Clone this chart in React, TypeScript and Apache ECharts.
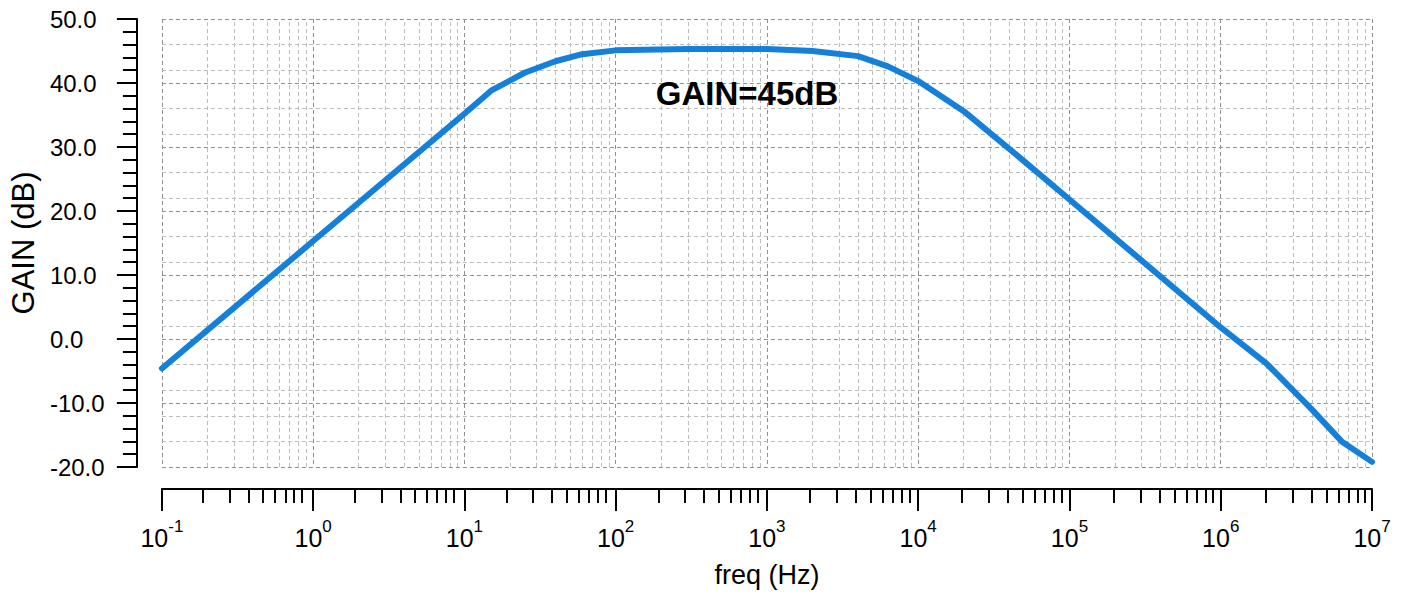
import { useEffect, useRef } from "react";
import * as echarts from "echarts";

// ---- data ----
const freqHz = [0.1, 1, 10, 15, 25, 40, 60, 100, 300, 1000, 2000, 4000, 6300, 10000, 20000, 50000, 100000, 1000000, 2000000, 4000000, 6300000, 10000000];
const gainDb = [-4.6, 15.3, 35.2, 38.8, 41.6, 43.4, 44.5, 45.1, 45.3, 45.3, 45.0, 44.2, 42.6, 40.3, 35.6, 27.8, 21.8, 1.8, -3.8, -11.0, -16.0, -19.2];
const decadeStarts = [0.1, 1, 10, 100, 1000, 10000, 100000, 1000000];
const minorMultipliers = [2, 3, 4, 5, 6, 7, 8, 9];
const minorGridDb = [46, 42, 36, 32, 26, 22, 16, 12, 6, 2, -4, -8, -12, -16];
const yMin = -20;
const yMax = 50;
const yStep = 10;
const xMin = 0.1;
const xMax = 10000000;
const annotationText = "GAIN=45dB";
const xName = "freq (Hz)";
const yName = "GAIN (dB)";

const FONT = '"Liberation Sans", Arial, Helvetica, sans-serif';

export default function App() {
  const ref = useRef<HTMLDivElement>(null);
  useEffect(() => {
    if (!ref.current) return;
    const chart = echarts.init(ref.current, null, { renderer: "svg" });
    const minorX = decadeStarts.flatMap((d) => minorMultipliers.map((m) => +(d * m).toPrecision(6)));
    const option: any = {
      animation: false,
      backgroundColor: "#fff",
      grid: [
        { left: 157, top: 19, width: 1215, height: 448 },
        { left: 157, top: 489, width: 1215, height: 14 },
      ],
      xAxis: [
        {
          type: "log",
          logBase: 10,
          gridIndex: 0,
          min: xMin,
          max: xMax,
          position: "bottom",
          offset: 22,
          axisLine: { show: true, onZero: false, lineStyle: { color: "#000", width: 2 } },
          axisTick: { show: true, length: 22, lineStyle: { color: "#000", width: 2 } },
          axisLabel: {
            show: true,
            margin: 29,
            showMinLabel: true,
            showMaxLabel: true,
            formatter: (v: number) => `{b|10}{s|${Math.round(Math.log10(v))}}`,
            rich: {
              b: { fontSize: 25, lineHeight: 40, fontFamily: FONT, color: "#000" },
              s: { fontSize: 17, lineHeight: 17, verticalAlign: "top", fontFamily: FONT, color: "#000" },
            },
          },
          splitLine: { show: true, lineStyle: { color: "#8f8f8f", type: [4, 3], width: 1 } },
          name: xName,
          nameLocation: "middle",
          nameGap: 72,
          nameTextStyle: { fontSize: 27, color: "#000", fontFamily: FONT },
        },
        {
          type: "log",
          logBase: 10,
          gridIndex: 1,
          min: xMin,
          max: xMax,
          show: false,
        },
      ],
      yAxis: [
        {
          type: "value",
          gridIndex: 0,
          min: yMin,
          max: yMax,
          interval: yStep,
          offset: 25,
          axisLine: { show: true, onZero: false, lineStyle: { color: "#000", width: 2 } },
          axisTick: { show: true, length: 20, lineStyle: { color: "#000", width: 2 } },
          minorTick: { show: true, splitNumber: 5, length: 14, lineStyle: { color: "#000", width: 2 } },
          axisLabel: {
            show: true,
            align: "left",
            margin: 87,
            fontSize: 24,
            fontFamily: FONT,
            color: "#000",
            formatter: (v: number) => v.toFixed(1),
          },
          splitLine: { show: true, lineStyle: { color: "#8f8f8f", type: [4, 3], width: 1 } },
          name: yName,
          nameLocation: "middle",
          nameRotate: 90,
          nameGap: 95,
          nameTextStyle: { fontSize: 31, color: "#000", fontFamily: FONT },
        },
        {
          type: "value",
          gridIndex: 1,
          min: 0,
          max: 1,
          show: false,
        },
      ],
      series: [
        {
          type: "line",
          xAxisIndex: 0,
          yAxisIndex: 0,
          data: [],
          silent: true,
          markLine: {
            silent: true,
            z: 1,
            symbol: ["none", "none"],
            label: { show: false },
            lineStyle: { color: "#bdbdbd", type: [4, 3], width: 1 },
            emphasis: { disabled: true },
            data: [
              ...minorX.map((v) => ({ xAxis: v })),
              ...minorGridDb.map((v) => ({ yAxis: v })),
            ],
          },
        },
        {
          type: "line",
          xAxisIndex: 1,
          yAxisIndex: 1,
          data: [],
          silent: true,
          markLine: {
            silent: true,
            symbol: ["none", "none"],
            label: { show: false },
            lineStyle: { color: "#000", type: "solid", width: 2 },
            emphasis: { disabled: true },
            data: minorX.map((v) => ({ xAxis: v })),
          },
        },
        {
          type: "line",
          name: "gain",
          xAxisIndex: 0,
          yAxisIndex: 0,
          z: 10,
          clip: false,
          showSymbol: false,
          symbol: "none",
          lineStyle: { color: "#1580DA", width: 6, cap: "round", join: "round" },
          data: freqHz.map((f, i) => [f, gainDb[i]]),
        },
      ],
      graphic: [
        {
          type: "text",
          x: 747,
          y: 93,
          z: 20,
          style: {
            text: annotationText,
            fontSize: 33,
            fontWeight: "bold",
            fontFamily: FONT,
            fill: "#000",
            align: "center",
            verticalAlign: "middle",
          },
        },
      ],
    };
    chart.setOption(option);
    return () => chart.dispose();
  }, []);
  return (
    <div
      ref={ref}
      style={{ position: "absolute", left: 0, top: 0, width: 1406, height: 594 }}
    />
  );
}
